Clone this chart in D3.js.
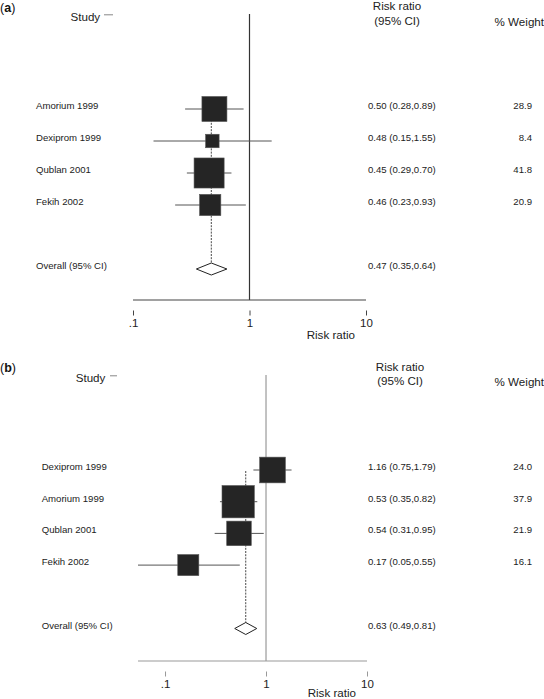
<!DOCTYPE html>
<html>
<head>
<meta charset="utf-8">
<script src="https://cdn.jsdelivr.net/npm/d3@7"></script>
<style>
  html, body { margin: 0; padding: 0; background: #fff; }
  svg { display: block; font-family: "Liberation Sans", Arial, Helvetica, sans-serif; }
</style>
</head>
<body>
<svg id="chart" width="544" height="699"></svg>
<script>
// ---------- Data ----------
const studiesA = ["Amorium 1999", "Dexiprom 1999", "Qublan 2001", "Fekih 2002"];
const rrA      = [0.50, 0.48, 0.45, 0.46];
const lowA     = [0.28, 0.15, 0.29, 0.23];
const highA    = [0.89, 1.55, 0.70, 0.93];
const weightA  = [28.9, 8.4, 41.8, 20.9];
const overallA = [0.47, 0.35, 0.64];   // estimate, low, high

const studiesB = ["Dexiprom 1999", "Amorium 1999", "Qublan 2001", "Fekih 2002"];
const rrB      = [1.16, 0.53, 0.54, 0.17];
const lowB     = [0.75, 0.35, 0.31, 0.05];
const highB    = [1.79, 0.82, 0.95, 0.55];
const weightB  = [24.0, 37.9, 21.9, 16.1];
const overallB = [0.63, 0.49, 0.81];

const tickValues = [0.1, 1, 10];
const tickLabels = [".1", "1", "10"];
const overallLabel = "Overall (95% CI)";

// ---------- Drawing ----------
const svg = d3.select("#chart");
const fmt2 = d3.format(".2f");
const fmt1 = d3.format(".1f");
const HEAD = 11.6, ROW = 9.6;

function panel(cfg) {
  const g = svg.append("g");
  const n = cfg.studies.length;
  const x = d3.scaleLog().domain(cfg.domain).range(cfg.range).clamp(true);
  const y = d3.scaleLinear().domain([0, 1]).range([cfg.y0, cfg.y0 + cfg.step]);
  const rows = cfg.studies.map((s, i) => ({
    name: s, rr: cfg.rr[i], lo: cfg.low[i], hi: cfg.high[i], w: cfg.weight[i], i
  }));
  const oIdx = n + 1;
  const x1 = x(1);

  // panel letter
  const lt = g.append("text").attr("x", 0).attr("y", cfg.top + 11.5)
    .attr("font-size", 12.5).attr("fill", "#111");
  lt.append("tspan").text("(");
  lt.append("tspan").attr("font-weight", "bold").text(cfg.letter);
  lt.append("tspan").text(")");

  // headers
  g.append("text").attr("x", cfg.studyX).attr("y", cfg.top + cfg.studyY)
    .attr("font-size", HEAD).attr("fill", "#222").attr("dominant-baseline", "central")
    .text("Study");
  g.append("line").attr("x1", cfg.dashX[0]).attr("x2", cfg.dashX[1])
    .attr("y1", cfg.top + cfg.studyY - 1.2).attr("y2", cfg.top + cfg.studyY - 1.2)
    .attr("stroke", "#888").attr("stroke-width", 1);
  g.append("text").attr("x", cfg.rrHeadX).attr("y", cfg.top + cfg.rrHeadY[0])
    .attr("font-size", HEAD).attr("fill", "#222").attr("text-anchor", "middle")
    .attr("dominant-baseline", "central").text("Risk ratio");
  g.append("text").attr("x", cfg.rrHeadX).attr("y", cfg.top + cfg.rrHeadY[1])
    .attr("font-size", HEAD).attr("fill", "#222").attr("text-anchor", "middle")
    .attr("dominant-baseline", "central").text("(95% CI)");
  g.append("text").attr("x", 544).attr("y", cfg.top + cfg.wHeadY)
    .attr("font-size", HEAD).attr("fill", "#222").attr("text-anchor", "end")
    .attr("dominant-baseline", "central").text("% Weight");

  // null line
  g.append("line").attr("x1", x1).attr("x2", x1)
    .attr("y1", cfg.vTop).attr("y2", cfg.axisY)
    .attr("stroke", cfg.vColor).attr("stroke-width", 1.2);

  // overall dashed line
  g.append("line").attr("x1", x(cfg.overall[0])).attr("x2", x(cfg.overall[0]))
    .attr("y1", y(0) + 1).attr("y2", y(oIdx))
    .attr("stroke", "#333").attr("stroke-width", 0.9).attr("stroke-dasharray", "2,1.2");

  // CI lines
  g.selectAll("line.ci").data(rows).join("line").attr("class", "ci")
    .attr("x1", d => x(d.lo)).attr("x2", d => x(d.hi))
    .attr("y1", d => y(d.i)).attr("y2", d => y(d.i))
    .attr("stroke", cfg.ciColor).attr("stroke-width", 1);

  // boxes
  g.selectAll("rect.box").data(rows).join("rect").attr("class", "box")
    .attr("x", d => x(d.rr) - cfg.k * Math.sqrt(d.w) / 2)
    .attr("y", d => y(d.i) - cfg.k * Math.sqrt(d.w) / 2)
    .attr("width", d => cfg.k * Math.sqrt(d.w))
    .attr("height", d => cfg.k * Math.sqrt(d.w))
    .attr("fill", "#252525").attr("stroke", "#555").attr("stroke-width", 0.6);

  // diamond
  const oy = y(oIdx), dh = 6;
  const [oe, ol, oh] = cfg.overall;
  g.append("path")
    .attr("d", `M${x(ol)},${oy}L${x(oe)},${oy - dh}L${x(oh)},${oy}L${x(oe)},${oy + dh}Z`)
    .attr("fill", "#fff").attr("stroke", "#222").attr("stroke-width", 1);

  // row texts
  const all = rows.map(d => ({ name: d.name, txt: `${fmt2(d.rr)} (${fmt2(d.lo)},${fmt2(d.hi)})`, w: fmt1(d.w), i: d.i }));
  all.push({ name: overallLabel, txt: `${fmt2(oe)} (${fmt2(ol)},${fmt2(oh)})`, w: "", i: oIdx });
  g.selectAll("text.nm").data(all).join("text").attr("class", "nm")
    .attr("x", cfg.labelX).attr("y", d => y(d.i) - cfg.textOff)
    .attr("font-size", ROW).attr("fill", "#222").attr("dominant-baseline", "central")
    .text(d => d.name);
  g.selectAll("text.ci").data(all).join("text").attr("class", "ci")
    .attr("x", 368).attr("y", d => y(d.i) - cfg.textOff)
    .attr("font-size", ROW).attr("fill", "#222").attr("dominant-baseline", "central")
    .text(d => d.txt);
  g.selectAll("text.wt").data(all.filter(d => d.w !== "")).join("text").attr("class", "wt")
    .attr("x", 532).attr("y", d => y(d.i) - cfg.textOff)
    .attr("font-size", ROW).attr("fill", "#222").attr("text-anchor", "end")
    .attr("dominant-baseline", "central")
    .text(d => d.w);

  // axis line
  g.append("line").attr("x1", cfg.range[0]).attr("x2", cfg.range[1])
    .attr("y1", cfg.axisY).attr("y2", cfg.axisY)
    .attr("stroke", cfg.axColor).attr("stroke-width", 1.2);

  // ticks
  const ax = d3.axisBottom(x).tickValues(tickValues)
    .tickFormat((d, i) => tickLabels[i]).tickSize(5).tickPadding(3);
  const ag = g.append("g").attr("transform", `translate(0,${cfg.axisY + 10.5})`).call(ax);
  ag.select(".domain").remove();
  ag.selectAll(".tick line").attr("stroke", cfg.axColor);
  ag.selectAll(".tick text").attr("font-size", 11.5).attr("fill", "#222")
    .attr("font-family", "Liberation Sans, Arial, sans-serif");

  g.append("text").attr("x", cfg.titleX).attr("y", cfg.axisY + cfg.titleOff)
    .attr("font-size", HEAD).attr("fill", "#222").attr("text-anchor", "end")
    .attr("dominant-baseline", "central").text("Risk ratio");
}

panel({
  letter: "a", top: 0,
  studies: studiesA, rr: rrA, low: lowA, high: highA, weight: weightA, overall: overallA,
  domain: [0.1, 10], range: [133, 366],
  y0: 109, step: 32, textOff: 4,
  vTop: 14, axisY: 300, k: 4.65,
  vColor: "#333", axColor: "#444", ciColor: "#555",
  labelX: 36, studyX: 70.5, studyY: 16, dashX: [104, 113],
  rrHeadX: 397, rrHeadY: [5, 20], wHeadY: 21.5,
  titleX: 355, titleOff: 34
});

panel({
  letter: "b", top: 360,
  studies: studiesB, rr: rrB, low: lowB, high: highB, weight: weightB, overall: overallB,
  domain: [0.054, 10], range: [138, 367],
  y0: 470, step: 31.7, textOff: 3.5,
  vTop: 375, axisY: 661, k: 5.25,
  vColor: "#999", axColor: "#999", ciColor: "#555",
  labelX: 41.7, studyX: 75.7, studyY: 17, dashX: [110, 117],
  rrHeadX: 400, rrHeadY: [6, 20], wHeadY: 21.5,
  titleX: 356, titleOff: 31
});
</script>
</body>
</html>
